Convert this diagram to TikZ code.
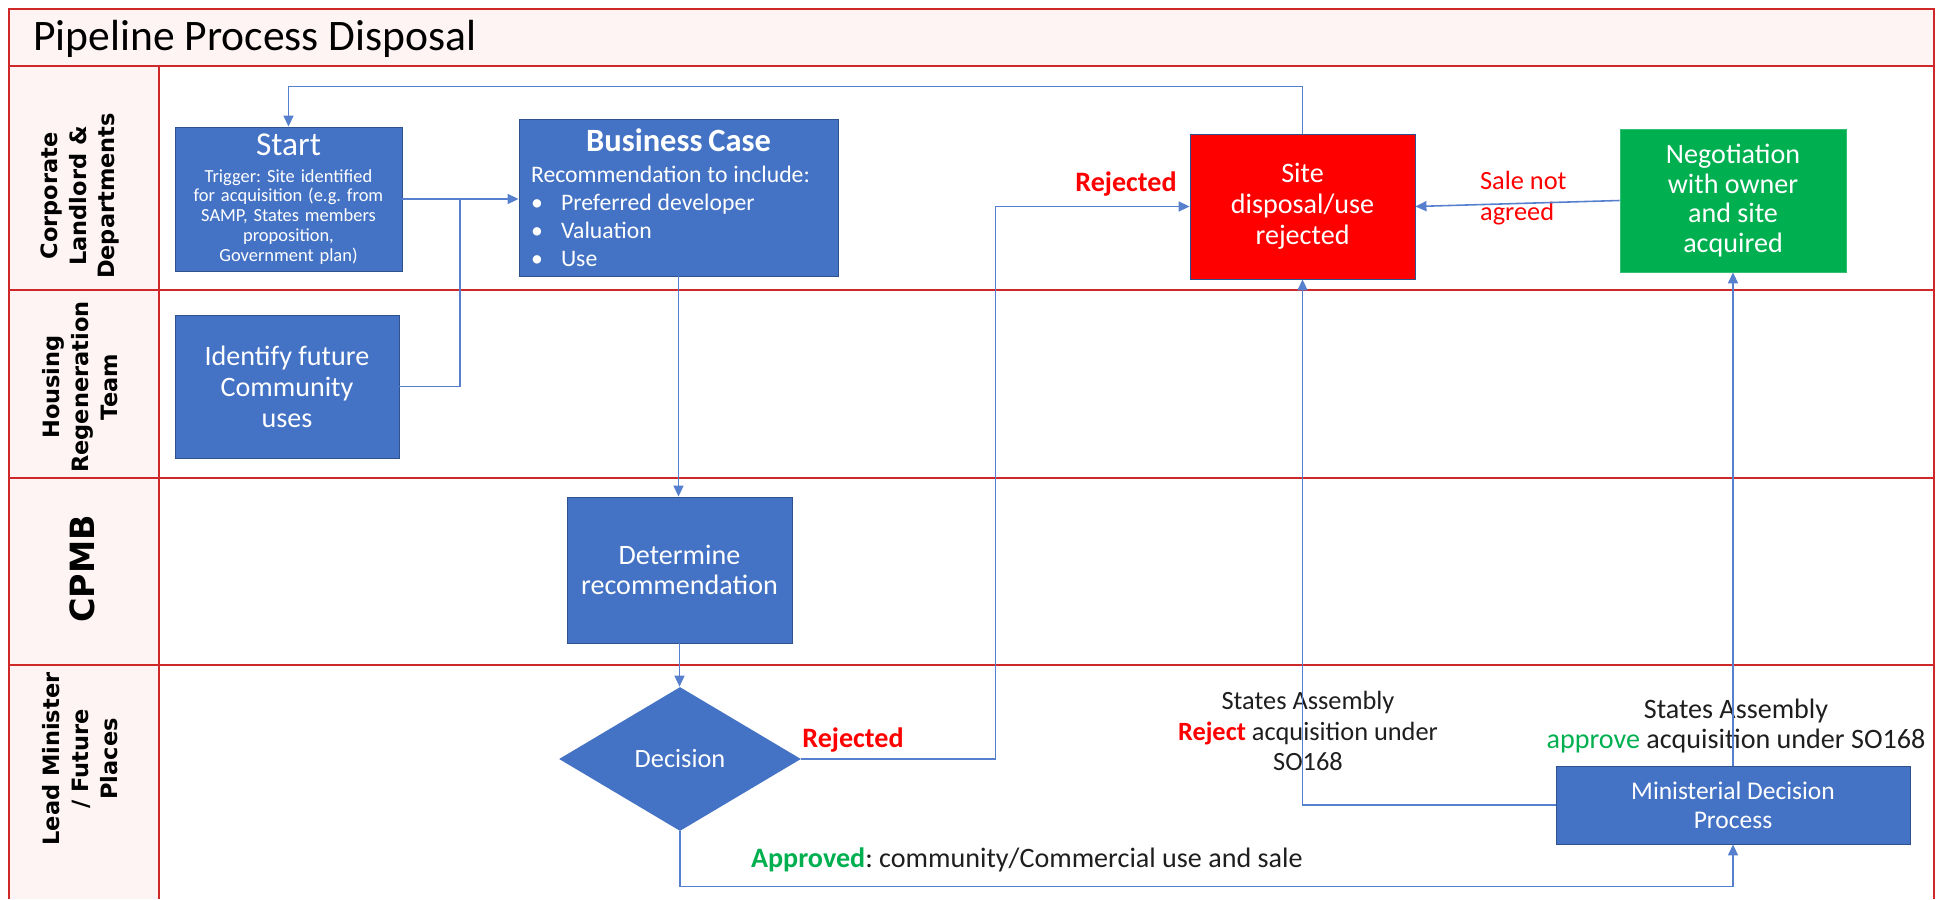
\documentclass[tikz,border=0pt]{standalone}
\usepackage{fontspec}
\setmainfont{Carlito}
\newfontfamily\lanefont{DejaVu Sans}
\usetikzlibrary{shapes.geometric,arrows.meta}
\frenchspacing

\definecolor{boxblue}{RGB}{68,114,196}
\definecolor{boxedge}{RGB}{47,82,143}
\definecolor{linkblue}{RGB}{86,128,206}
\definecolor{laneline}{RGB}{206,40,40}
\definecolor{lanefill}{RGB}{255,244,244}
\definecolor{rejectred}{RGB}{255,0,0}
\definecolor{acquiregreen}{RGB}{0,176,80}
\definecolor{approvegreen}{RGB}{0,176,80}
\definecolor{inkgrey}{RGB}{30,30,30}

\tikzset{
  procbox/.style={draw=boxedge, line width=0.5pt, fill=boxblue, text=white, inner sep=2pt, align=center},
  decisionbox/.style={diamond, fill=boxblue, text=white, inner sep=0pt},
  flow/.style={draw=linkblue, line width=0.9pt, -{Triangle[length=0.22cm,width=0.2cm]}},
  link/.style={draw=linkblue, line width=0.9pt},
  lanerule/.style={draw=laneline, line width=0.8pt},
  lanelabel/.style={rotate=90, align=center, text=black, font=\lanefont\bfseries\fontsize{12.8}{16.5}\selectfont},
  note/.style={text=inkgrey, inner sep=1pt},
}

\begin{document}
\begin{tikzpicture}[x=0.02cm,y=-0.02cm]
            \useasboundingbox (0.000000,0.000000) rectangle (1950.000000,899.000000);%

            % Filling title band and lane header column
            \fill [lanefill] (9.000000,9.000000) rectangle (1934.000000,66.000000);%
            \fill [lanefill] (9.000000,66.000000) rectangle (159.000000,899.000000);%

            % Drawing frame and lane rules
            \draw [lanerule] (9.000000,899.000000) -- (9.000000,9.000000) -- (1934.000000,9.000000) -- (1934.000000,899.000000);%
            \draw [lanerule] (9.000000,66.000000) -- (1934.000000,66.000000);%
            \draw [lanerule] (9.000000,290.000000) -- (1934.000000,290.000000);%
            \draw [lanerule] (9.000000,478.000000) -- (1934.000000,478.000000);%
            \draw [lanerule] (9.000000,665.000000) -- (1934.000000,665.000000);%
            \draw [lanerule] (159.000000,66.000000) -- (159.000000,899.000000);%

            % Marking title
            \node [anchor=west, inner sep=0pt, font=\fontsize{24.8}{28}\selectfont] (title) at (33.000000,39.000000) {Pipeline Process Disposal};%

            % Marking lane labels
            \node [lanelabel] (lanecorp) at (80.000000,196.000000) {Corporate\\Landlord \&\\Departments};%
            \node [lanelabel] (lanehousing) at (80.000000,387.000000) {Housing\\Regeneration\\Team};%
            \node [lanelabel, font=\lanefont\bfseries\fontsize{19}{22}\selectfont] (lanecpmb) at (82.000000,569.000000) {CPMB};%
            \node [lanelabel] (laneminister) at (80.000000,759.000000) {Lead Minister\\/ Future\\Places};%

            % Drawing box Start
            \node [procbox, minimum width=4.54cm, minimum height=2.88cm, text width=4.4cm] (start) at (288.500000,199.000000)
              {{\fontsize{19}{20}\selectfont Start\par}\vspace{4pt}{\fontsize{10.5}{11.3}\selectfont Trigger: Site identified\\for acquisition (e.g. from\\SAMP, States members\\proposition,\\Government plan)\par}};%

            % Drawing box Business Case
            \node [procbox, minimum width=6.38cm, minimum height=3.14cm, text width=5.9cm, align=left] (bizcase) at (678.500000,197.500000)
              {{\centering\fontsize{18.5}{20}\selectfont\bfseries Business Case\par}\vspace{2pt}{\fontsize{13.5}{15.8}\selectfont Recommendation to include:\par
               \makebox[0.6cm][l]{\textbullet}Preferred developer\par
               \makebox[0.6cm][l]{\textbullet}Valuation\par
               \makebox[0.6cm][l]{\textbullet}Use\par}};%

            % Drawing box Identify future Community uses
            \node [procbox, minimum width=4.48cm, minimum height=2.86cm, font=\fontsize{16}{17.6}\selectfont] (identify) at (287.000000,386.500000) {Identify future\\Community\\uses};%

            % Drawing box Determine recommendation
            \node [procbox, minimum width=4.50cm, minimum height=2.92cm, font=\fontsize{16}{16.6}\selectfont] (determine) at (679.500000,570.000000) {Determine\\recommendation};%

            % Drawing diamond Decision
            \node [decisionbox, minimum width=4.84cm, minimum height=2.88cm, font=\fontsize{15}{17}\selectfont] (decision) at (680.000000,759.000000) {Decision};%

            % Drawing box Site disposal/use rejected
            \node [procbox, fill=rejectred, minimum width=4.50cm, minimum height=2.90cm, font=\fontsize{16}{17.6}\selectfont] (site) at (1302.500000,206.500000) {Site\\disposal/use\\rejected};%

            % Drawing box Negotiation
            \node [procbox, draw=acquiregreen!80!white, fill=acquiregreen, minimum width=4.52cm, minimum height=2.86cm, font=\fontsize{16}{17}\selectfont] (nego) at (1733.000000,200.500000) {Negotiation\\with owner\\and site\\acquired};%

            % Drawing box Ministerial Decision Process
            \node [procbox, minimum width=7.08cm, minimum height=1.56cm, font=\fontsize{14.5}{16.5}\selectfont] (minist) at (1733.000000,805.000000) {Ministerial Decision\\Process};%

            % Marking connector labels
            \node [note, text=rejectred, font=\fontsize{16}{18}\selectfont\bfseries] (rejtop) at (1126.000000,184.000000) {Rejected};%
            \node [note, text=rejectred, font=\fontsize{16}{18}\selectfont\bfseries] (rejdecision) at (853.000000,740.000000) {Rejected};%
            \node [note, text=rejectred, anchor=west, align=left, font=\fontsize{15}{18}\selectfont] (salenot) at (1478.000000,198.000000) {Sale not\\agreed};%
            \node [note, align=center, font=\fontsize{15}{17.6}\selectfont] (assemblyreject) at (1308.000000,731.000000) {States Assembly\\{\color{rejectred}\bfseries Reject} acquisition under\\SO168};%
            \node [note, align=center, font=\fontsize{16}{17.6}\selectfont] (assemblyapprove) at (1736.000000,726.000000) {States Assembly\\{\color{approvegreen}approve} acquisition under SO168};%
            \node [note, anchor=west, font=\fontsize{16}{18}\selectfont] (approved) at (749.000000,860.000000) {{\color{approvegreen}\bfseries Approved}: community/Commercial use and sale};%

            % Drawing joint of Community uses line
            \coordinate (joint) at (460.000000,198.000000);%

            % Drawing connectors
            \draw [flow] (start.east) -- (start.east -| bizcase.west);%
            \draw [link] (identify.east) -- (identify.east -| joint) -- (joint);%
            \draw [flow] (site.north) -- ++(0.000000,-47.000000) -| (start.north);%
            \draw [flow] (bizcase.south) -- (bizcase.south |- determine.north);%
            \draw [flow] (determine.south) -- (determine.south |- decision.north);%
            \draw [flow] (decision.east) -- ++(194.000000,0.000000) |- (site.west);%
            \draw [flow] (decision.south) -- ++(0.000000,55.000000) -| (minist.south);%
            \draw [flow] (minist.west) -| (site.south);%
            \draw [flow] (minist.north) -- (nego.south);%
            \draw [flow] (nego.west) -- (site.east);%
\end{tikzpicture}
\end{document}
